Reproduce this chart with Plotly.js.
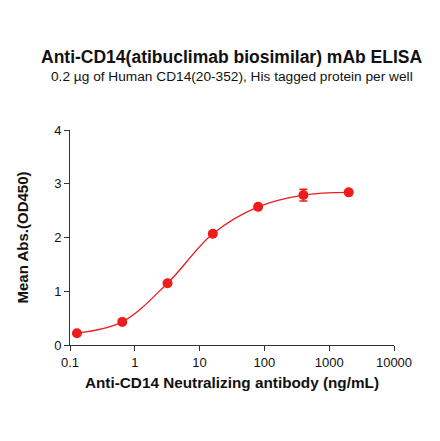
<!DOCTYPE html>
<html>
<head>
<meta charset="utf-8">
<script src="https://cdn.plot.ly/plotly-3.0.1.min.js"></script>
<style>html,body{margin:0;padding:0;background:#fff;}#chart{width:440px;height:441px;}</style>
</head>
<body>
<div id="chart"></div>
<script>
var concentrations = [0.128, 0.64, 3.2, 16, 80, 400, 2000];
var meanAbs = [0.22, 0.43, 1.15, 2.07, 2.57, 2.79, 2.84];
var errAbs = [0.02, 0.02, 0.03, 0.03, 0.03, 0.11, 0.02];
var xTickVals = [0.1, 1, 10, 100, 1000, 10000];
var xTickText = ["0.1", "1", "10", "100", "1000", "10000"];
var yTickVals = [0, 1, 2, 3, 4];

var red = "#ee1c1c";
var font = "'Liberation Sans', Arial, sans-serif";

var traces = [
  {
    x: concentrations, y: meanAbs, mode: "lines", type: "scatter",
    line: {color: red, width: 1.3, shape: "spline", smoothing: 1},
    hoverinfo: "skip", showlegend: false
  },
  {
    x: concentrations, y: meanAbs, mode: "markers", type: "scatter",
    marker: {color: red, size: 10},
    error_y: {type: "data", array: errAbs, visible: true, color: red, thickness: 1.5, width: 4},
    showlegend: false
  }
];

var layout = {
  width: 440, height: 441,
  margin: {l: 70, r: 46, t: 130, b: 96},
  paper_bgcolor: "#fff", plot_bgcolor: "#fff",
  font: {family: font, color: "#111", size: 13},
  showlegend: false,
  xaxis: {
    type: "log", range: [-1, 4],
    tickvals: xTickVals, ticktext: xTickText,
    showgrid: false, zeroline: false, showline: true, linecolor: "#333", linewidth: 1,
    ticks: "outside", ticklen: 5, tickcolor: "#333", tickfont: {size: 13, family: font},
    title: {text: "<b>Anti-CD14 Neutralizing antibody (ng/mL)</b>", font: {size: 15.3, family: font}, standoff: 8}
  },
  yaxis: {
    range: [0, 4], tickvals: yTickVals,
    showgrid: false, zeroline: false, showline: true, linecolor: "#333", linewidth: 1,
    ticks: "outside", ticklen: 5, tickcolor: "#333", tickfont: {size: 13, family: font},
    title: {text: "<b>Mean Abs.(OD450)</b>", font: {size: 15, family: font}, standoff: 21}
  },
  annotations: [
    {text: "<b>Anti-CD14(atibuclimab biosimilar) mAb ELISA</b>", xref: "paper", yref: "paper",
     x: 0.5, y: 1, yshift: 73, showarrow: false, xanchor: "center", yanchor: "middle",
     font: {size: 17.5, family: font, color: "#111"}},
    {text: "0.2 \u00b5g of Human CD14(20-352), His tagged protein per well", xref: "paper", yref: "paper",
     x: 0.5, y: 1, yshift: 54, showarrow: false, xanchor: "center", yanchor: "middle",
     font: {size: 13.7, family: font, color: "#111"}}
  ]
};

Plotly.newPlot("chart", traces, layout, {displayModeBar: false, staticPlot: true});
</script>
</body>
</html>
